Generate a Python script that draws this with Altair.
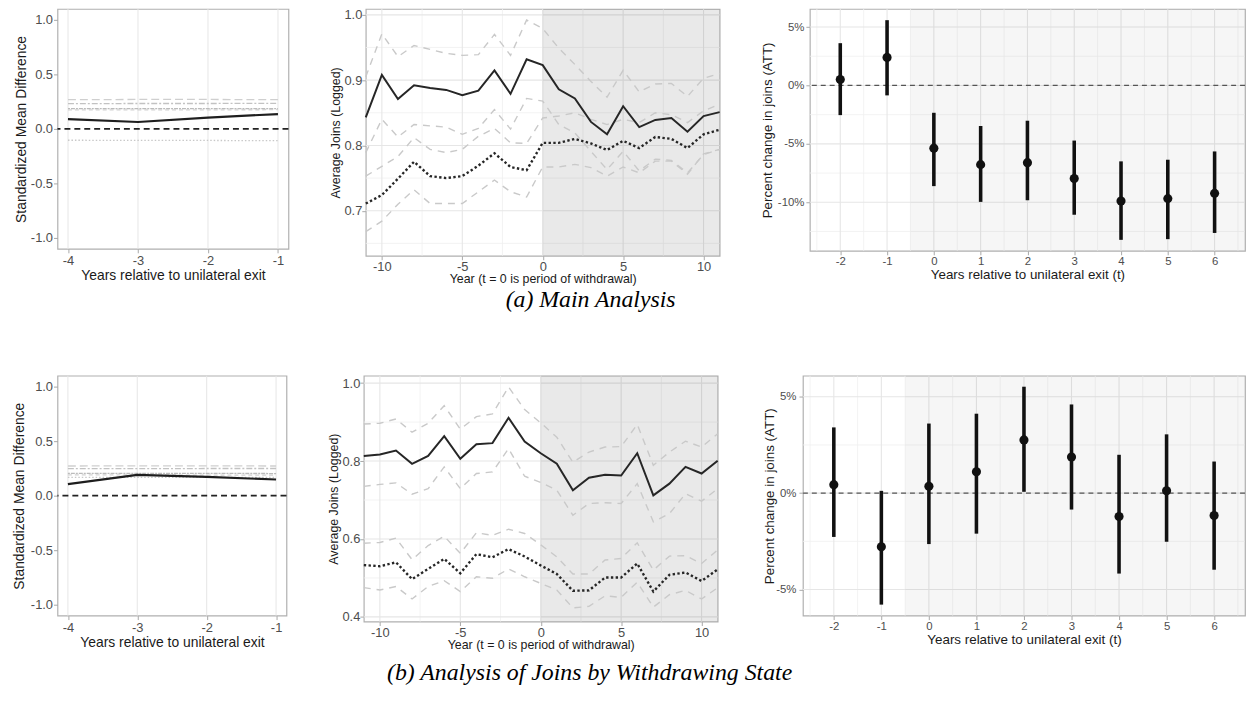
import altair as alt
import pandas as pd

SANS = "Liberation Sans"
SERIF = "Liberation Serif"
LABEL_GREY = "#4D4D4D"
TITLE_INK = "#1A1A1A"
TICK_GREY = "#A8A8A8"
GRID_MAJOR = "#E6E6E6"
GRID_MINOR = "#F0F0F0"

# ---------------- balance panels: standardized mean differences ----------------
smd_years = [-4, -3, -2, -1]
smd_a = [0.089, 0.063, 0.104, 0.136]
smd_a_cov1 = [0.268, 0.270, 0.270, 0.268]
smd_a_cov2 = [0.232, 0.233, 0.233, 0.234]
smd_a_cov3 = [0.185, 0.186, 0.186, 0.186]
smd_a_cov4 = [0.174, 0.175, 0.175, 0.176]
smd_a_cov5 = [-0.104, -0.105, -0.106, -0.108]

smd_b = [0.106, 0.190, 0.172, 0.148]
smd_b_cov1 = [0.272, 0.273, 0.273, 0.272]
smd_b_cov2 = [0.248, 0.248, 0.249, 0.249]
smd_b_cov3 = [0.205, 0.204, 0.204, 0.203]
smd_b_cov4 = [0.190, 0.190, 0.189, 0.189]
smd_b_cov5 = [0.168, 0.168, 0.167, 0.167]

# ---------------- average joins (logged), t = -11 .. 11 ----------------
years = list(range(-11, 12))
a_treat = [0.843, 0.908, 0.871, 0.892, 0.888, 0.885, 0.877, 0.884, 0.915, 0.879, 0.932, 0.923,
           0.886, 0.872, 0.836, 0.817, 0.860, 0.828, 0.839, 0.842, 0.821, 0.845, 0.851]
a_treat_hi = [0.905, 0.971, 0.936, 0.953, 0.947, 0.941, 0.938, 0.939, 0.970, 0.938, 0.992, 0.979,
              0.949, 0.924, 0.898, 0.874, 0.915, 0.882, 0.894, 0.895, 0.875, 0.903, 0.910]
a_treat_lo = [0.789, 0.840, 0.813, 0.832, 0.830, 0.828, 0.817, 0.826, 0.855, 0.825, 0.872, 0.868,
              0.832, 0.819, 0.791, 0.763, 0.791, 0.761, 0.779, 0.777, 0.758, 0.786, 0.794]
a_ctrl = [0.711, 0.724, 0.749, 0.775, 0.753, 0.750, 0.753, 0.769, 0.788, 0.767, 0.762, 0.804,
          0.804, 0.810, 0.803, 0.793, 0.807, 0.796, 0.813, 0.810, 0.796, 0.817, 0.824]
a_ctrl_hi = [0.753, 0.768, 0.783, 0.812, 0.794, 0.789, 0.794, 0.814, 0.826, 0.804, 0.803, 0.842,
             0.845, 0.850, 0.840, 0.832, 0.840, 0.835, 0.850, 0.847, 0.835, 0.853, 0.863]
a_ctrl_lo = [0.668, 0.684, 0.710, 0.732, 0.711, 0.711, 0.711, 0.729, 0.747, 0.729, 0.721, 0.767,
             0.767, 0.771, 0.766, 0.753, 0.767, 0.758, 0.776, 0.776, 0.756, 0.787, 0.794]

b_treat = [0.813, 0.817, 0.827, 0.793, 0.813, 0.864, 0.806, 0.843, 0.846, 0.911, 0.850, 0.820,
           0.793, 0.725, 0.757, 0.765, 0.763, 0.820, 0.712, 0.742, 0.785, 0.768, 0.801]
b_treat_hi = [0.895, 0.897, 0.908, 0.874, 0.897, 0.942, 0.882, 0.914, 0.921, 0.990, 0.932, 0.898,
              0.861, 0.797, 0.823, 0.836, 0.837, 0.894, 0.789, 0.823, 0.851, 0.836, 0.870]
b_treat_lo = [0.735, 0.740, 0.744, 0.715, 0.729, 0.785, 0.729, 0.768, 0.772, 0.832, 0.761, 0.745,
              0.725, 0.661, 0.691, 0.693, 0.691, 0.742, 0.644, 0.665, 0.716, 0.697, 0.729]
b_ctrl = [0.533, 0.530, 0.540, 0.497, 0.523, 0.549, 0.512, 0.561, 0.553, 0.574, 0.555, 0.532,
          0.510, 0.467, 0.468, 0.501, 0.501, 0.537, 0.465, 0.508, 0.514, 0.492, 0.522]
b_ctrl_hi = [0.589, 0.591, 0.602, 0.547, 0.583, 0.607, 0.563, 0.616, 0.609, 0.625, 0.614, 0.585,
             0.554, 0.510, 0.510, 0.546, 0.550, 0.590, 0.520, 0.556, 0.557, 0.537, 0.572]
b_ctrl_lo = [0.475, 0.469, 0.478, 0.446, 0.478, 0.493, 0.465, 0.503, 0.499, 0.523, 0.503, 0.486,
             0.469, 0.423, 0.427, 0.454, 0.450, 0.489, 0.425, 0.457, 0.468, 0.446, 0.475]

# ---------------- ATT event-study estimates (percent) ----------------
att_years = [-2, -1, 0, 1, 2, 3, 4, 5, 6]
a_att = [0.51, 2.40, -5.37, -6.78, -6.61, -7.97, -9.89, -9.69, -9.24]
a_att_lo = [-2.54, -0.85, -8.62, -9.97, -9.83, -11.07, -13.22, -13.16, -12.63]
a_att_hi = [3.62, 5.59, -2.34, -3.47, -3.02, -4.72, -6.50, -6.36, -5.65]
b_att = [0.44, -2.78, 0.36, 1.11, 2.76, 1.87, -1.21, 0.12, -1.16]
b_att_lo = [-2.27, -5.78, -2.64, -2.10, 0.07, -0.85, -4.17, -2.52, -3.97]
b_att_hi = [3.41, 0.12, 3.61, 4.12, 5.52, 4.60, 1.99, 3.05, 1.64]

captions = ["(a) Main Analysis", "(b) Analysis of Joins by Withdrawing State"]

LBL_1F = "(datum.value < 0 ? '-' : '') + format(abs(datum.value), '.1f')"
LBL_INT = "(datum.value < 0 ? '-' : '') + format(abs(datum.value), 'd')"
LBL_PCT = "(datum.value < 0 ? '-' : '') + format(abs(datum.value), 'd') + '%'"


def axis(values, title, expr, lab_fs, title_fs, extent, tpad, lpad):
    return alt.Axis(values=values, title=title, labelExpr=expr, labelFontSize=lab_fs,
                    titleFontSize=title_fs, labelFont=SANS, titleFont=SANS,
                    labelColor=LABEL_GREY, titleColor=TITLE_INK, titleFontWeight="normal",
                    grid=False, domain=False, tickColor=TICK_GREY, tickSize=4, tickWidth=1,
                    labelPadding=lpad, titlePadding=tpad, minExtent=extent, maxExtent=extent,
                    labelFlush=False, labelOverlap=False)


class Frame:
    """Shared scales and axes for all layers of one panel."""

    def __init__(self, xs, ys, xa, ya):
        self.xs, self.ys, self.xa, self.ya = xs, ys, xa, ya

    def x(self, field):
        return alt.X(field, scale=self.xs, axis=self.xa)

    def y(self, field):
        return alt.Y(field, scale=self.ys, axis=self.ya)

    def vrules(self, vals, color, width):
        return alt.Chart(pd.DataFrame({"v": vals})).mark_rule(
            color=color, strokeWidth=width).encode(x=self.x("v:Q"))

    def hrules(self, vals, color, width, dash=None):
        kw = {"color": color, "strokeWidth": width}
        if dash:
            kw["strokeDash"] = dash
        return alt.Chart(pd.DataFrame({"v": vals})).mark_rule(**kw).encode(y=self.y("v:Q"))

    def band(self, x0, x1, opacity):
        return alt.Chart(pd.DataFrame({"a": [x0], "b": [x1]})).mark_rect(
            color="#000000", opacity=opacity).encode(x=self.x("a:Q"), x2="b:Q")


def smd_panel(main, covs, width, height, y_extent):
    f = Frame(
        alt.Scale(domain=[-4.15, -0.85], nice=False, zero=False),
        alt.Scale(domain=[-1.1, 1.1], nice=False, zero=False),
        axis(smd_years, "Years relative to unilateral exit", LBL_INT, 13, 14, 18, 2, 2),
        axis([-1, -0.5, 0, 0.5, 1], "Standardized Mean Difference", LBL_1F, 13, 14, y_extent, 1, 1),
    )
    styles = [("#CFCFCF", [8, 4]), ("#C2C2C2", [6, 2, 2, 2]), ("#BBBBBB", [2, 1, 4, 1]),
              ("#D2D2D2", [4, 3]), ("#C8C8C8", [1.5, 2])]
    layers = [f.vrules(smd_years, GRID_MAJOR, 1)]
    for vals, (col, dash) in zip(covs, styles):
        df = pd.DataFrame({"t": smd_years, "v": vals})
        layers.append(alt.Chart(df).mark_line(color=col, strokeDash=dash, strokeWidth=1.3).encode(
            x=f.x("t:Q"), y=f.y("v:Q")))
    layers.append(f.hrules([0], "#222222", 1.6, [6, 4]))
    df = pd.DataFrame({"t": smd_years, "v": main})
    layers.append(alt.Chart(df).mark_line(color="#1E1E1E", strokeWidth=2.2).encode(
        x=f.x("t:Q"), y=f.y("v:Q")))
    return alt.layer(*layers).properties(width=width, height=height)


def joins_panel(treat, treat_hi, treat_lo, ctrl, ctrl_hi, ctrl_lo, ydom, yticks, yminor,
                width, height):
    f = Frame(
        alt.Scale(domain=[-11, 11], nice=False, zero=False),
        alt.Scale(domain=ydom, nice=False, zero=False),
        axis([-10, -5, 0, 5, 10], "Year (t = 0 is period of withdrawal)", LBL_INT, 13, 12.5, 16, 1, 1),
        axis(yticks, "Average Joins (Logged)", LBL_1F, 13, 12.5, 22, 2, 0),
    )
    layers = [
        f.vrules([-7.5, -2.5, 2.5, 7.5], GRID_MINOR, 0.8),
        f.hrules(yminor, GRID_MINOR, 0.8),
        f.vrules([-10, -5, 0, 5, 10], GRID_MAJOR, 1.1),
        f.hrules(yticks, GRID_MAJOR, 1.1),
        f.band(0, 11, 0.085),
    ]
    ci = pd.DataFrame({
        "t": years * 4,
        "v": treat_hi + treat_lo + ctrl_hi + ctrl_lo,
        "s": ["th"] * 23 + ["tl"] * 23 + ["ch"] * 23 + ["cl"] * 23,
    })
    layers.append(alt.Chart(ci).mark_line(color="#C9C9C9", strokeDash=[7, 6], strokeWidth=1.4)
                  .encode(x=f.x("t:Q"), y=f.y("v:Q"), detail="s:N"))
    layers.append(alt.Chart(pd.DataFrame({"t": years, "v": ctrl}))
                  .mark_line(color="#262626", strokeDash=[2.4, 2.4], strokeWidth=2.4)
                  .encode(x=f.x("t:Q"), y=f.y("v:Q")))
    layers.append(alt.Chart(pd.DataFrame({"t": years, "v": treat}))
                  .mark_line(color="#262626", strokeWidth=2.0)
                  .encode(x=f.x("t:Q"), y=f.y("v:Q")))
    return alt.layer(*layers).properties(width=width, height=height)


def att_panel(att, lo, hi, ydom, yticks, yminor, width, height, y_extent, y_lpad):
    xdom = [-2.65, 6.65]
    f = Frame(
        alt.Scale(domain=xdom, nice=False, zero=False),
        alt.Scale(domain=ydom, nice=False, zero=False),
        axis(att_years, "Years relative to unilateral exit (t)", LBL_INT, 11.5, 13.5, 16, 1, 1),
        axis(yticks, "Percent change in joins (ATT)", LBL_PCT, 11.5, 13.5, y_extent, 3, y_lpad),
    )
    xminor = [-2.5, -1.5, -0.5, 0.5, 1.5, 2.5, 3.5, 4.5, 5.5, 6.5]
    df = pd.DataFrame({"t": att_years, "att": att, "lo": lo, "hi": hi})
    layers = [
        f.vrules(xminor, GRID_MINOR, 0.8),
        f.hrules(yminor, GRID_MINOR, 0.8),
        f.vrules(att_years, GRID_MAJOR, 1.1),
        f.hrules(yticks, GRID_MAJOR, 1.1),
        f.band(-0.5, xdom[1], 0.035),
        f.hrules([0], "#555555", 1.3, [5, 4]),
        alt.Chart(df).mark_rule(color="#111111", strokeWidth=3.6).encode(
            x=f.x("t:Q"), y=f.y("lo:Q"), y2="hi:Q"),
        alt.Chart(df).mark_circle(color="#111111", opacity=1, size=85).encode(
            x=f.x("t:Q"), y=f.y("att:Q")),
    ]
    return alt.layer(*layers).properties(width=width, height=height)


def caption(text, dx, offset):
    return alt.TitleParams(text, orient="bottom", anchor="middle", font=SERIF, fontStyle="italic",
                           fontWeight="normal", fontSize=24, color="#000000", dx=dx, offset=offset)


row_a = alt.hconcat(
    alt.hconcat(
        smd_panel(smd_a, [smd_a_cov1, smd_a_cov2, smd_a_cov3, smd_a_cov4, smd_a_cov5], 233, 242, 28),
        joins_panel(a_treat, a_treat_hi, a_treat_lo, a_ctrl, a_ctrl_hi, a_ctrl_lo,
                    [0.631, 1.009], [0.7, 0.8, 0.9, 1.0], [0.65, 0.75, 0.85, 0.95], 357, 249),
        spacing=38,
    ),
    att_panel(a_att, a_att_lo, a_att_hi, [-14.16, 6.55], [-10, -5, 0, 5], [-12.5, -7.5, -2.5, 2.5],
              439, 244, 33, 2),
    spacing=34,
).properties(title=caption(captions[0], -40, 3))

row_b = alt.hconcat(
    alt.hconcat(
        smd_panel(smd_b, [smd_b_cov1, smd_b_cov2, smd_b_cov3, smd_b_cov4, smd_b_cov5], 231, 242, 30),
        joins_panel(b_treat, b_treat_hi, b_treat_lo, b_ctrl, b_ctrl_hi, b_ctrl_lo,
                    [0.388, 1.019], [0.4, 0.6, 0.8, 1.0], [0.5, 0.7, 0.9], 357, 248),
        spacing=38,
    ),
    att_panel(b_att, b_att_lo, b_att_hi, [-6.35, 6.09], [-5, 0, 5], [-2.5, 2.5],
              446, 242, 24, 3),
    spacing=38,
).properties(title=caption(captions[1], -40, 10))

chart = alt.vconcat(row_a, row_b, spacing=61).properties(
    padding={"left": 12, "top": 4, "right": 0, "bottom": 0},
    background="white",
).configure_view(stroke="#B0B0B0", strokeWidth=1.2)

chart.save("out.html", embed_options={"renderer": "svg", "actions": False})
